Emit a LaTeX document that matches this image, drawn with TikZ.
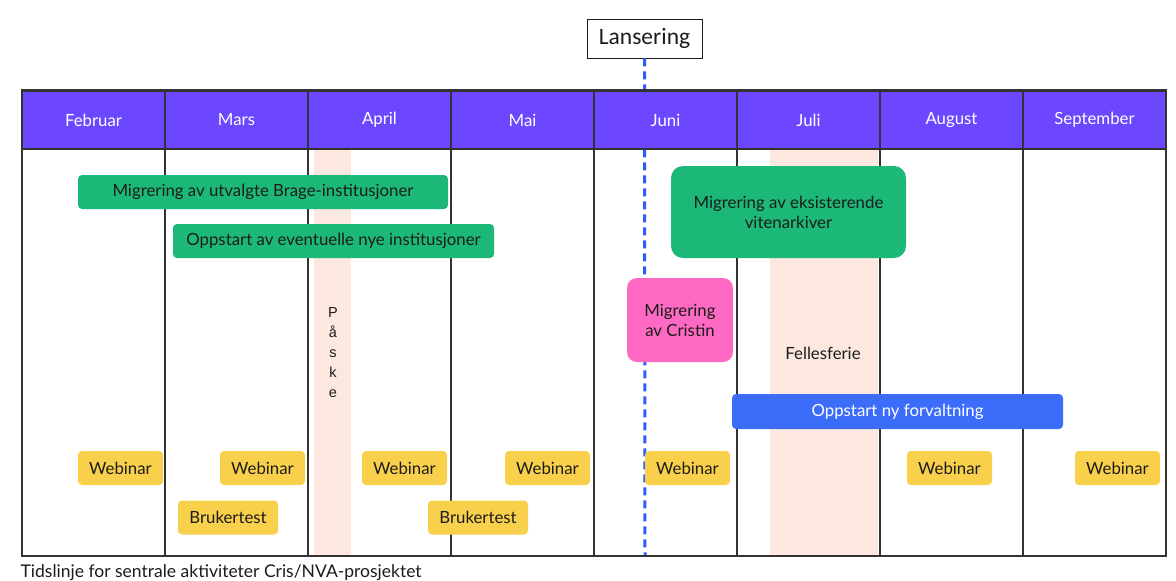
\documentclass[tikz,border=0pt]{standalone}
\usepackage{fontspec}
\setmainfont{Lato}
\newfontfamily\calibrifont{Carlito}
\newfontfamily\arialfont{Liberation Sans}
\usepackage{xcolor}
\definecolor{HeaderPurple}{HTML}{6C47FF}
\definecolor{BarGreen}{HTML}{1BB878}
\definecolor{BarPink}{HTML}{FD69C3}
\definecolor{BarBlue}{HTML}{3B6DFA}
\definecolor{BarYellow}{HTML}{F9D04C}
\definecolor{Holiday}{HTML}{FDE8E0}
\definecolor{LaunchBlue}{HTML}{2F5CFF}
\definecolor{GridGray}{HTML}{333333}
\definecolor{InkDark}{HTML}{1C1C1C}

\begin{document}
\begin{tikzpicture}[x=1pt, y=-1pt, line width=1.3pt,
      every node/.append style={font=\fontsize{16.8}{20}\selectfont, text=InkDark, align=center, inner sep=0pt}]
    \tikzstyle{month} = [fill=HeaderPurple, draw=GridGray, text=white, minimum width=143pt, minimum height=58pt]
    \tikzstyle{bar} = [rounded corners=4pt, fill=BarGreen, minimum height=34pt]
    \tikzstyle{event} = [rounded corners=4pt, fill=BarYellow, minimum width=85pt, minimum height=34pt]
    \tikzstyle{holiday} = [fill=Holiday, minimum height=408pt]
    \tikzstyle{launch} = [draw=LaunchBlue, line width=3pt, dash pattern=on 8pt off 5pt]
    \useasboundingbox[fill=white] (0,0) rectangle (1176,581);
    \node (easter) [holiday, minimum width=37pt] at (332.5,352) {};
    \node (summer) [holiday, minimum width=108pt] at (824,352) {};
    \node (lansering) [draw=InkDark, fill=white, line width=0.8pt, minimum width=115pt, minimum height=39pt,
      font=\calibrifont\fontsize{23.5}{26}\selectfont] at (644.5,38.5) {Lansering};
    \coordinate (launchend) at (645,556);
    \draw[launch] (lansering.south) -- (launchend);
    \draw[GridGray] (22,90) rectangle (1166,556);
    \foreach \i in {1,...,7}
      \draw[GridGray] (22+143*\i,90) -- (22+143*\i,556);
    \foreach \m [count=\i] in {Februar,Mars,April,Mai,Juni,Juli,August,September}
      \node (m\i) [month] at (22+143*\i-71.5,120) {\m};
    \node (paske) [font=\arialfont\fontsize{14.5}{20}\selectfont] at (333,353) {P\\å\\s\\k\\e};
    \node (ferie) at (823,353) {Fellesferie};
    \node (brage) [bar, minimum width=370pt] at (263,192) {Migrering av utvalgte Brage-institusjoner};
    \node (nye) [bar, minimum width=321pt] at (333.5,241) {Oppstart av eventuelle nye institusjoner};
    \node (arkiv) [bar, rounded corners=12pt, minimum width=235pt, minimum height=92pt] at (788.5,212)
      {Migrering av eksisterende\\vitenarkiver};
    \node (cristin) [bar, fill=BarPink, rounded corners=10pt, minimum width=106pt, minimum height=84pt] at (680,320)
      {Migrering\\av Cristin};
    \node (forvaltning) [bar, fill=BarBlue, text=white, minimum width=331pt, minimum height=35pt] at (897.5,411.5)
      {Oppstart ny forvaltning};
    \foreach \x [count=\i] in {120.5,262.5,404.5,547.5,687.5,949.5,1117.5}
      \node (webinar\i) [event] at (\x,468) {Webinar};
    \node (test1) [event, minimum width=100pt] at (228,517.5) {Brukertest};
    \node (test2) [event, minimum width=100pt] at (478,517.5) {Brukertest};
    \node (caption) [anchor=base west, font=\fontsize{17.5}{20}\selectfont] at (20,577)
      {Tidslinje for sentrale aktiviteter Cris/NVA-prosjektet};
\end{tikzpicture}
\end{document}
